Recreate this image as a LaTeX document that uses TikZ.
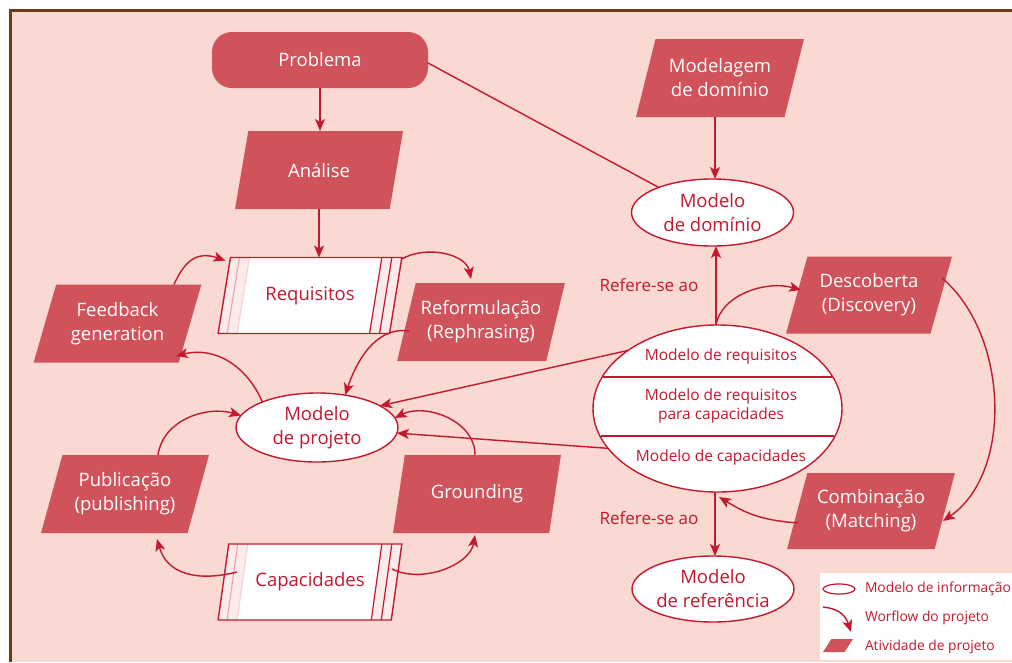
\documentclass[tikz,border=0pt]{standalone}
\usepackage{fontspec}
\setmainfont{Open Sans}
\usetikzlibrary{shapes.geometric,arrows.meta,calc}

\definecolor{bgpink}{HTML}{FAD9D3}
\definecolor{actfill}{HTML}{D0525A}
\definecolor{wred}{HTML}{C4182E}
\definecolor{framebrown}{HTML}{6E3B16}
\definecolor{stripe}{HTML}{FCEBEB}
\definecolor{stripeline}{HTML}{EBA3AA}

\newcommand{\fsz}[2]{\fontsize{#1}{#2}\selectfont}

% white document symbol with striped borders on both sides
\newcommand{\stripedoc}[1]{%
  \fill[stripe] (#1.bottom left corner) -- (#1.top left corner)
    -- ($(#1.top left corner)+(19,0)$) -- ($(#1.bottom left corner)+(19,0)$) -- cycle;
  \fill[stripe] ($(#1.bottom right corner)+(-20,0)$) -- (#1.bottom right corner)
    -- (#1.top right corner) -- ($(#1.top right corner)+(-20,0)$) -- cycle;
  \draw[stripeline, line width=1.1pt] ($(#1.bottom left corner)+(9,0)$) -- ($(#1.top left corner)+(9,0)$);
  \draw[stripeline!50, line width=1.1pt] ($(#1.bottom left corner)+(19,0)$) -- ($(#1.top left corner)+(19,0)$);
  \draw[wred, line width=1.2pt] ($(#1.bottom right corner)+(-10,0)$) -- ($(#1.top right corner)+(-10,0)$);
  \draw[wred, line width=1.2pt] ($(#1.bottom right corner)+(-20,0)$) -- ($(#1.top right corner)+(-20,0)$);
  \draw[wred, line width=1.4pt] (#1.bottom left corner) -- (#1.top left corner)
    -- (#1.top right corner) -- (#1.bottom right corner) -- cycle;
}

\begin{document}
\begin{tikzpicture}[x=1pt,y=-1pt,
  every node/.style={inner sep=0pt, outer sep=0pt},
  activity/.style={trapezium, trapezium left angle=68, trapezium right angle=112,
    trapezium stretches=true, fill=actfill, text=white, align=center,
    minimum width=168pt, minimum height=78pt, font=\fsz{18.5}{24}},
  infodoc/.style={trapezium, trapezium left angle=69, trapezium right angle=111,
    trapezium stretches=true, fill=white, text=wred,
    minimum width=184pt, minimum height=76pt, font=\fsz{18.5}{24}},
  model/.style={ellipse, draw=wred, line width=1.4pt, fill=white, text=wred,
    align=center, font=\fsz{18.5}{24}},
  startbox/.style={rectangle, rounded corners=20pt, fill=actfill, text=white,
    minimum width=216pt, minimum height=56pt, font=\fsz{18.5}{24}},
  lbl/.style={text=wred, font=\fsz{17}{20}},
  subtxt/.style={text=wred, align=center, font=\fsz{15.5}{19.5}},
  legtxt/.style={text=wred, anchor=west, font=\fsz{13.8}{16}},
  wf/.style={draw=wred, line width=1.4pt, -{Stealth[length=12pt,width=10pt,inset=3pt]}},
  plainline/.style={draw=wred, line width=1.4pt},
]
\useasboundingbox (0,0) rectangle (1012,662);

% background and frame
\fill[white] (0,0) rectangle (1012,662);
\fill[bgpink] (10,10) rectangle (1012,662);
\draw[framebrown, line width=3pt] (10,662) -- (10,10.5) -- (1012,10.5);

% activities and start
\node[startbox] (prob) at (320,60) {Problema};
\node[activity] (anal) at (319,170) {Análise};
\node[activity] (mdom) at (720,78) {Modelagem\\de domínio};
\node[activity] (fb) at (117.5,323.5) {Feedback\\generation};
\node[activity] (reform) at (481,322) {Reformulação\\(Rephrasing)};
\node[activity] (pub) at (125,494) {Publicação\\(publishing)};
\node[activity] (grd) at (477,494) {Grounding};
\node[activity, minimum width=166pt, minimum height=77pt] (disc) at (869,295) {Descoberta\\(Discovery)};
\node[activity, minimum width=168pt, minimum height=76pt] (comb) at (871,511) {Combinação\\(Matching)};

% information documents
\node[infodoc] (req) at (310,295.5) {Requisitos};
\stripedoc{req}
\node[infodoc] (cap) at (310,582) {Capacidades};
\stripedoc{cap}

% information models
\node[model, minimum width=162pt, minimum height=67pt] (dom) at (712.5,212.5) {Modelo\\de domínio};
\node[model, minimum width=162pt, minimum height=66pt] (ref) at (713,589) {Modelo\\de referência};
\node[model, minimum width=162pt, minimum height=69pt] (proj) at (317,427.5) {Modelo\\de projeto};
\node[ellipse, draw=wred, line width=1.4pt, fill=white,
      minimum width=249pt, minimum height=167pt] (big) at (717.5,408.5) {};
\draw[wred, line width=1.4pt] ($(big.center)+(-115,-31.5)$) -- ($(big.center)+(115,-31.5)$);
\draw[wred, line width=1.4pt] ($(big.center)+(-116.5,27.5)$) -- ($(big.center)+(116.5,27.5)$);
\node[subtxt] (mreq) at (721,356) {Modelo de requisitos};
\node[subtxt] (mrc) at (721,406) {Modelo de requisitos\\para capacidades};
\node[subtxt] (mcap) at (721,457.5) {Modelo de capacidades};

% labels
\node[lbl] (r1) at (649,285) {Refere-se ao};
\node[lbl] (r2) at (649,518) {Refere-se ao};

% guide points for the vertical links
\coordinate (domtop) at ($(dom.north)+(2.5,0)$);
\coordinate (bigtop) at ($(big.north)+(-1.5,0)$);
\coordinate (bigbot) at ($(big.south)+(-2.5,0)$);

% straight connectors
\draw[wf] (prob.south) -- (prob.south |- anal.north);
\draw[wf] (anal.south) -- (anal.south |- req.north);
\draw[plainline] ($(prob.east)+(0,3)$) -- (dom.155);
\draw[wf] (domtop |- mdom.south) -- (domtop);
\draw[wf] (bigtop) -- (bigtop |- dom.south);
\draw[wf] (bigbot) -- (bigbot |- ref.north);
\draw[wf] (big.147) -- (proj.19);
\draw[wf] (big.200) -- (proj.-4);

% curved workflow connectors
\draw[wf] ($(fb.north)+(56.5,0)$) .. controls +(10,-22) and +(-30,-10) .. ($(req.top left corner)+(-5,3)$);
\draw[wf] ($(req.top right corner)+(-1,2)$) .. controls +(25,-15) and +(-5,-25) .. ($(reform.north)+(-10,-4)$);
\draw[wf] ($(reform.center)+(-72,9)$) .. controls +(-35,-5) and +(10,-30) .. (proj.49);
\draw[wf] ($(grd.north)+(-2,0)$) .. controls +(0,-35) and +(30,-15) .. (proj.7);
\draw[wf] (proj.155) .. controls +(-15,-35) and +(40,-10) .. ($(fb.center)+(58.5,32.5)$);
\draw[wf] ($(pub.north)+(33,0)$) .. controls +(5,-35) and +(-35,-10) .. (proj.171);
\draw[wf] ($(cap.center)+(-73,-10)$) .. controls +(-40,10) and +(10,35) .. ($(pub.south)+(32,6)$);
\draw[wf] ($(cap.center)+(82,-13)$) .. controls +(30,15) and +(-5,30) .. ($(grd.south)+(-2,2)$);
\draw[wf] (bigtop) .. controls +(5,-30) and +(-35,-10) .. ($(disc.center)+(-68,-5)$);
\draw[wf] ($(disc.center)+(73,-17)$) .. controls +(67,57) and +(70,-48) .. ($(comb.center)+(72,10)$);
\draw[wf] ($(comb.center)+(-73,12)$) .. controls +(-40,-3) and +(25,15) .. ($(big.south)+(1.5,5)$);

% legend
\fill[white] (820,573) rectangle (1012,660);
\node[ellipse, draw=wred, line width=1.2pt, minimum width=32pt, minimum height=10pt] (lgell) at (839,589) {};
\node[legtxt] (lgt1) at (865,589) {Modelo de informação};
\coordinate (lga) at (823,607);
\coordinate (lgb) at (851,632);
\draw[wf] (lga) .. controls +(18,2) and +(-5,-15) .. (lgb);
\node[legtxt] (lgt2) at (865,618) {Worflow do projeto};
\node[trapezium, trapezium left angle=58, trapezium right angle=122, trapezium stretches=true,
      fill=actfill, minimum width=30pt, minimum height=13pt] (lgact) at (838,645.5) {\phantom{x}};
\node[legtxt] (lgt3) at (865,647) {Atividade de projeto};
\end{tikzpicture}
\end{document}
